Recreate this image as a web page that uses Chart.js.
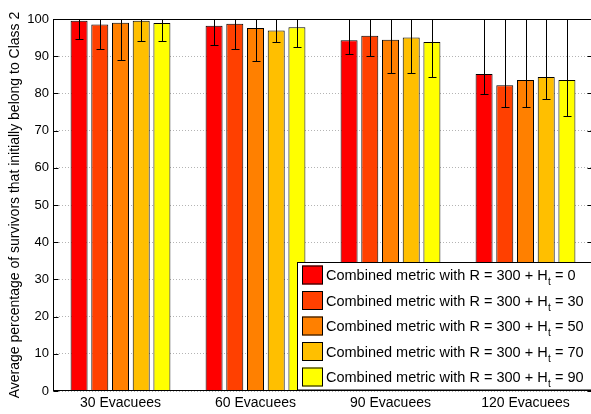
<!DOCTYPE html>
<html>
<head>
<meta charset="utf-8">
<script src="https://cdn.jsdelivr.net/npm/chart.js@4"></script>
<style>
  html, body { margin: 0; padding: 0; background: #fff; overflow: hidden; }
  #wrap { width: 596px; height: 414px; }
</style>
</head>
<body>
<div id="wrap"><canvas id="myChart"></canvas></div>
<script>
// Categories on the x axis
const categories = ['30 Evacuees', '60 Evacuees', '90 Evacuees', '120 Evacuees'];

// Legend label values of H_t
const htValues = [0, 30, 50, 70, 90];

// Bar heights per series (one value per category)
const ht0 = [99.5, 98.2, 94.3, 85.2];
const ht30 = [98.5, 98.7, 95.5, 82.2];
const ht50 = [99.0, 97.6, 94.4, 83.6];
const ht70 = [99.5, 96.9, 95.0, 84.4];
const ht90 = [98.9, 97.8, 93.8, 83.6];

// Lower error lengths per series
const errLo0 = [4.9, 5.1, 3.6, 5.4];
const errLo30 = [6.6, 6.8, 5.4, 5.9];
const errLo50 = [10.0, 8.9, 8.8, 7.3];
const errLo70 = [5.3, 3.2, 9.4, 5.9];
const errLo90 = [4.7, 5.3, 9.5, 9.6];

// Upper error lengths per series (they run past the 100 limit and are cut off)
const errUp0 = [4.9, 5.1, 7.0, 16.0];
const errUp30 = [6.6, 6.8, 6.0, 19.0];
const errUp50 = [10.0, 8.9, 8.8, 17.5];
const errUp70 = [5.3, 4.5, 9.4, 16.5];
const errUp90 = [4.7, 5.3, 9.5, 17.5];

// y axis ticks
const yTicks = [0, 10, 20, 30, 40, 50, 60, 70, 80, 90, 100];

const seriesValues = [ht0, ht30, ht50, ht70, ht90];
const seriesErrLo = [errLo0, errLo30, errLo50, errLo70, errLo90];
const seriesErrUp = [errUp0, errUp30, errUp50, errUp70, errUp90];
const colors = ['#ff0000', '#ff4000', '#ff8000', '#ffbf00', '#ffff00'];
const FONT = '"Liberation Sans", Arial, Helvetica, sans-serif';

// error bars with caps at both ends (clipped to the plot area)
const errorBars = {
  id: 'errorBars',
  afterDatasetsDraw(chart) {
    const ctx = chart.ctx;
    const y = chart.scales.y;
    const area = chart.chartArea;
    ctx.save();
    ctx.beginPath();
    ctx.rect(area.left, area.top, area.right - area.left, area.bottom - area.top);
    ctx.clip();
    ctx.strokeStyle = '#000';
    ctx.lineWidth = 1;
    chart.data.datasets.forEach((ds, i) => {
      const meta = chart.getDatasetMeta(i);
      meta.data.forEach((bar, j) => {
        const v = ds.data[j];
        const x = Math.round(bar.x) + 0.5;
        const yLo = Math.round(y.getPixelForValue(v - seriesErrLo[i][j])) + 0.5;
        const yHi = Math.round(y.getPixelForValue(v + seriesErrUp[i][j])) + 0.5;
        ctx.beginPath();
        ctx.moveTo(x, yLo);
        ctx.lineTo(x, yHi);
        ctx.moveTo(x - 4, yLo);
        ctx.lineTo(x + 4, yLo);
        ctx.moveTo(x - 4, yHi);
        ctx.lineTo(x + 4, yHi);
        ctx.stroke();
      });
    });
    ctx.restore();
  }
};

// box around the plot with inward tick marks
const frame = {
  id: 'frame',
  afterDatasetsDraw(chart) {
    const ctx = chart.ctx;
    const a = chart.chartArea;
    const y = chart.scales.y;
    const l = Math.round(a.left) + 0.5, r = Math.round(a.right) - 0.5;
    const t = Math.round(a.top) + 0.5, b = Math.round(a.bottom) - 0.5;
    ctx.save();
    ctx.strokeStyle = '#000';
    ctx.lineWidth = 1;
    ctx.strokeRect(l, t, r - l, b - t);
    ctx.beginPath();
    yTicks.forEach(v => {
      const py = Math.round(y.getPixelForValue(v)) + 0.5;
      ctx.moveTo(l, py); ctx.lineTo(l + 5, py);
      ctx.moveTo(r, py); ctx.lineTo(r - 5, py);
    });
    ctx.stroke();
    ctx.restore();
  }
};

// legend box with subscript t
const subLegend = {
  id: 'subLegend',
  afterDraw(chart) {
    const ctx = chart.ctx;
    const left = 297.5, top = 262.5;
    ctx.save();
    ctx.fillStyle = '#fff';
    ctx.fillRect(left, top, 300, 390 - top);
    ctx.strokeStyle = '#000';
    ctx.lineWidth = 1;
    ctx.strokeRect(left, top, 300, 390 - top);
    htValues.forEach((h, i) => {
      const sy = 265.5 + i * 25.5;
      ctx.fillStyle = colors[i];
      ctx.fillRect(302, sy, 21, 19);
      ctx.strokeStyle = '#000';
      ctx.strokeRect(302.5, sy + 0.5, 20, 18);
      const base = sy + 14.5;
      ctx.fillStyle = '#000';
      ctx.textBaseline = 'alphabetic';
      ctx.font = '14.5px ' + FONT;
      const main = 'Combined metric with R = 300 + H';
      ctx.fillText(main, 326, base);
      let x = 326 + ctx.measureText(main).width;
      ctx.font = '10px ' + FONT;
      ctx.fillText('t', x + 0.5, base + 5);
      x += ctx.measureText('t').width + 0.5;
      ctx.font = '14.5px ' + FONT;
      ctx.fillText(' = ' + h, x, base);
    });
    ctx.restore();
  }
};

window.onload = function() {
  const ctx = document.getElementById('myChart').getContext('2d');
  new Chart(ctx, {
    type: 'bar',
    data: {
      labels: categories,
      datasets: seriesValues.map((vals, i) => ({
        label: 'Combined metric with R = 300 + Ht = ' + htValues[i],
        data: vals,
        backgroundColor: colors[i],
        borderColor: '#000',
        borderWidth: 1,
        categoryPercentage: 0.767,
        barPercentage: 0.82
      }))
    },
    options: {
      responsive: true,
      maintainAspectRatio: false,
      animation: false,
      layout: { padding: { top: 19, right: 3, left: 0, bottom: 0 } },
      plugins: {
        legend: { display: false },
        tooltip: { enabled: false }
      },
      scales: {
        x: {
          grid: { display: false, drawTicks: false },
          border: { display: false },
          ticks: { color: '#000', font: { family: FONT, size: 14 }, padding: 4, maxRotation: 0 },
          afterFit(s) { s.height = 23; }
        },
        y: {
          min: 0,
          max: 100,
          afterBuildTicks(s) { s.ticks = yTicks.map(v => ({ value: v })); },
          grid: { color: '#b4b4b4', lineWidth: 1, drawTicks: false },
          border: { display: false, dash: [1, 2] },
          ticks: { color: '#000', font: { family: FONT, size: 13 }, padding: 4 },
          title: {
            display: true,
            text: 'Average percentage of survivors that initially belong to Class 2',
            color: '#000',
            font: { family: FONT, size: 14 },
            padding: { top: 7, bottom: 0 }
          },
          afterFit(s) { s.width = 53; }
        }
      }
    },
    plugins: [errorBars, frame, subLegend]
  });
};
</script>
</body>
</html>
